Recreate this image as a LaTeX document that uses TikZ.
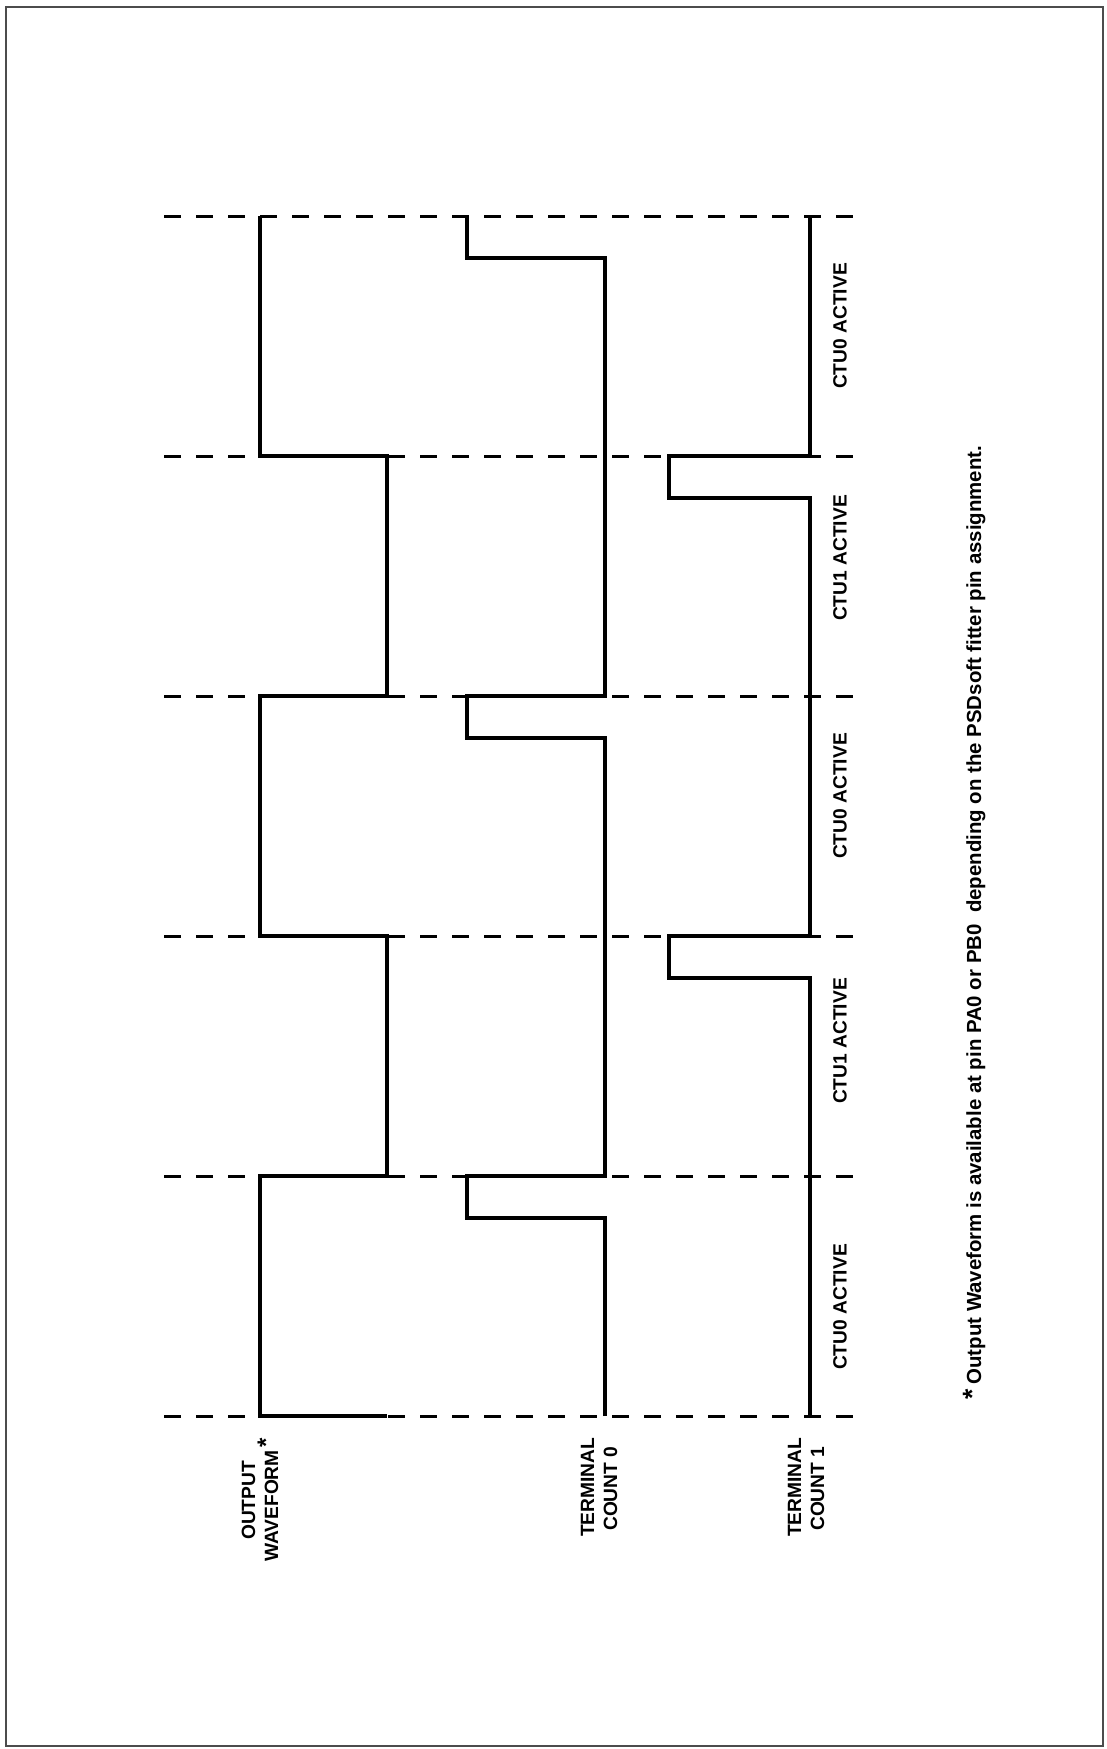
\documentclass[tikz,border=0pt]{standalone}
\usepackage{fontspec}
\setmainfont{Liberation Sans}
\begin{document}
\begin{tikzpicture}[x=1pt,y=-1pt,
  wave/.style={line width=4.5pt, line join=miter, line cap=butt},
  gridline/.style={line width=3pt, dash pattern=on 17pt off 15pt},
  lbl/.style={rotate=90, inner sep=0pt, font=\bfseries\fontsize{19.2}{23}\selectfont},
  notelbl/.style={rotate=90, inner sep=0pt, font=\bfseries\fontsize{20.4}{24}\selectfont}]
\useasboundingbox (0,0) rectangle (1107,1749);
\draw[line width=1.6pt, black!70] (6,7) rectangle (1103,1746);
% time division lines
\foreach \y in {216,456,696,936,1176,1416}
  \draw[gridline] (164,\y) -- (853,\y);
% output waveform
\draw[wave] (387,1416) -- (260,1416) -- (260,1176) -- (387,1176) -- (387,936)
  -- (260,936) -- (260,696) -- (387,696) -- (387,456) -- (260,456) -- (260,216);
% terminal count 0
\draw[wave] (605,1416) -- (605,1218) -- (467,1218) -- (467,1176) -- (605,1176)
  -- (605,738) -- (467,738) -- (467,696) -- (605,696) -- (605,258) -- (467,258) -- (467,216);
% terminal count 1
\draw[wave] (810,1416) -- (810,978) -- (669,978) -- (669,936) -- (810,936)
  -- (810,498) -- (669,498) -- (669,456) -- (810,456) -- (810,216);
% phase labels
\node[lbl] (p1) at (840,1307) {CTU0 ACTIVE};
\node[lbl] (p2) at (840,1041) {CTU1 ACTIVE};
\node[lbl] (p3) at (840,796) {CTU0 ACTIVE};
\node[lbl] (p4) at (840,558) {CTU1 ACTIVE};
\node[lbl] (p5) at (840,326) {CTU0 ACTIVE};
% signal labels
\node[lbl, anchor=base west] (ow1) at (255,1540) {OUTPUT};
\node[lbl, anchor=base west] (ow2) at (278,1562) {WAVEFORM\hspace{3pt}\raisebox{4pt}{\scalebox{1.25}{*}}};
\node[lbl, anchor=base west] (tc0a) at (594,1537) {TERMINAL};
\node[lbl, anchor=base west] (tc0b) at (617,1531) {COUNT 0};
\node[lbl, anchor=base west] (tc1a) at (801,1537) {TERMINAL};
\node[lbl, anchor=base west] (tc1b) at (824,1531) {COUNT 1};
% footnote
\node[notelbl, anchor=base west] (note) at (981,1400)
  {\scalebox{1.3}{*}\hspace{5pt}Output Waveform is available at pin PA0 or PB0~~depending on the PSDsoft fitter pin assignment.};
\end{tikzpicture}
\end{document}
